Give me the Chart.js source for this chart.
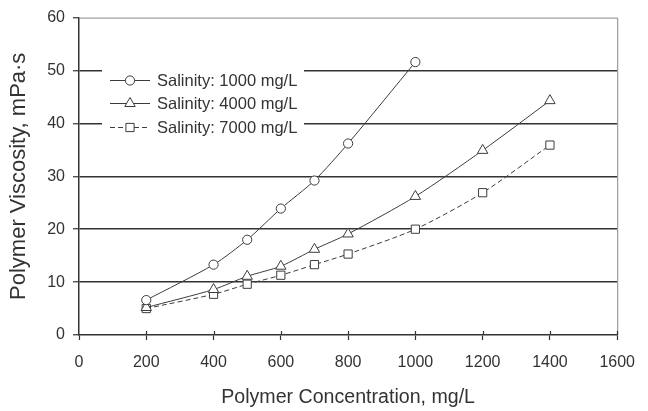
<!DOCTYPE html>
<html>
<head>
<meta charset="utf-8">
<script src="https://cdn.jsdelivr.net/npm/chart.js@4"></script>
<style>
html,body{margin:0;padding:0;background:#fff;}
#wrap{width:648px;height:411px;}
</style>
</head>
<body>
<div id="wrap"><canvas id="c" width="648" height="411"></canvas></div>
<script>
const xTicks = [0, 200, 400, 600, 800, 1000, 1200, 1400, 1600];
const yTicks = [0, 10, 20, 30, 40, 50, 60];
const seriesNames = ['Salinity: 1000 mg/L', 'Salinity: 4000 mg/L', 'Salinity: 7000 mg/L'];
const conc1000 = [200, 400, 500, 600, 700, 800, 1000];
const visc1000 = [6.6, 13.3, 18.0, 23.9, 29.2, 36.2, 51.6];
const conc4000 = [200, 400, 500, 600, 700, 800, 1000, 1200, 1400];
const visc4000 = [5.2, 8.6, 11.1, 13.0, 16.2, 19.1, 26.2, 34.9, 44.3];
const conc7000 = [200, 400, 500, 600, 700, 800, 1000, 1200, 1400];
const visc7000 = [5.0, 7.7, 9.6, 11.3, 13.3, 15.3, 20.0, 26.9, 35.9];

const FONT = '"Liberation Sans", Arial, sans-serif';
const INK = '#333';

function pts(xs, ys){ return xs.map((x,i)=>({x:x, y:ys[i]})); }

const common = {
  borderColor: '#3c3c3c', borderWidth: 1, pointBackgroundColor: '#fff',
  pointBorderColor: '#3c3c3c', pointBorderWidth: 1, tension: 0.25, fill: false
};

const datasets = [
  Object.assign({}, common, {label: seriesNames[0], data: pts(conc1000, visc1000), pointStyle: 'circle', pointRadius: 4.6}),
  Object.assign({}, common, {label: seriesNames[1], data: pts(conc4000, visc4000), pointStyle: 'triangle', pointRadius: 6}),
  Object.assign({}, common, {label: seriesNames[2], data: pts(conc7000, visc7000), pointStyle: 'rect', pointRadius: 5.8, borderDash: [5, 3]})
];

const framePlugin = {
  id: 'frame',
  beforeDatasetsDraw(chart){
    const {ctx, chartArea: a, scales} = chart;
    ctx.save();
    ctx.strokeStyle = '#888';
    ctx.lineWidth = 1;
    ctx.beginPath();
    ctx.moveTo(a.left, a.top + 0.5); ctx.lineTo(a.right + 0.5, a.top + 0.5);
    ctx.lineTo(a.right + 0.5, a.bottom);
    ctx.stroke();
    ctx.strokeStyle = INK;
    ctx.lineWidth = 1.2;
    ctx.beginPath();
    xTicks.forEach(v => {
      if (v === 0) return;
      const px = Math.round(scales.x.getPixelForValue(v)) + 0.5;
      ctx.moveTo(px, a.bottom); ctx.lineTo(px, a.bottom - 4);
    });
    ctx.stroke();
    ctx.restore();
  },
  afterDraw(chart){
    const {ctx} = chart;
    ctx.save();
    ctx.fillStyle = '#fff';
    ctx.fillRect(102, 62, 202, 78);
    const rows = [80, 103, 127];
    chart.data.datasets.forEach((ds, i) => {
      const y = rows[i];
      ctx.strokeStyle = '#3c3c3c';
      ctx.lineWidth = 1;
      ctx.setLineDash(ds.borderDash || []);
      ctx.beginPath();
      ctx.moveTo(110, y + 0.5); ctx.lineTo(150, y + 0.5);
      ctx.stroke();
      ctx.setLineDash([]);
      ctx.fillStyle = '#fff';
      Chart.helpers.drawPoint(ctx, {pointStyle: ds.pointStyle, radius: ds.pointRadius, rotation: 0, borderWidth: 1}, 130, y + 0.5);
      ctx.fillStyle = INK;
      ctx.font = '16.5px ' + FONT;
      ctx.textAlign = 'left';
      ctx.textBaseline = 'middle';
      ctx.fillText(ds.label, 157, y + 1);
    });
    ctx.restore();
  }
};

new Chart(document.getElementById('c'), {
  type: 'line',
  data: { datasets: datasets },
  plugins: [framePlugin],
  options: {
    responsive: false,
    animation: false,
    devicePixelRatio: 1,
    layout: { padding: { top: 17, right: 20, left: 0, bottom: 0 } },
    plugins: { legend: { display: false }, tooltip: { enabled: false } },
    scales: {
      x: {
        type: 'linear', min: 0, max: 1600,
        afterBuildTicks(s){ s.ticks = xTicks.map(v => ({value: v})); },
        afterFit(s){ s.height = 76; },
        grid: { display: true, drawOnChartArea: false, drawTicks: true, tickLength: 5, tickColor: INK, tickWidth: 1.2 },
        border: { display: true, color: INK, width: 1.5 },
        ticks: { color: INK, font: { family: FONT, size: 16 }, padding: 13, maxRotation: 0, callback: v => String(v) },
        title: { display: true, text: 'Polymer Concentration, mg/L', color: INK, font: { family: FONT, size: 19.6 }, padding: { top: 0, bottom: 2 } }
      },
      y: {
        type: 'linear', min: 0, max: 60,
        afterBuildTicks(s){ s.ticks = yTicks.map(v => ({value: v})); },
        afterFit(s){ s.width = 79; },
        grid: {
          drawOnChartArea: true, drawTicks: true, tickLength: 6, tickColor: INK, tickWidth: 1.2,
          color: c => (c.tick && c.tick.value > 0 && c.tick.value < 60) ? '#333' : 'rgba(0,0,0,0)',
          lineWidth: 1.5
        },
        border: { display: true, color: INK, width: 1.5 },
        ticks: { color: INK, font: { family: FONT, size: 16 }, padding: 8, callback: v => String(v) },
        title: { display: true, text: 'Polymer Viscosity, mPa·s', color: INK, font: { family: FONT, size: 22 }, padding: { top: 6, bottom: 0 } }
      }
    }
  }
});
</script>
</body>
</html>
